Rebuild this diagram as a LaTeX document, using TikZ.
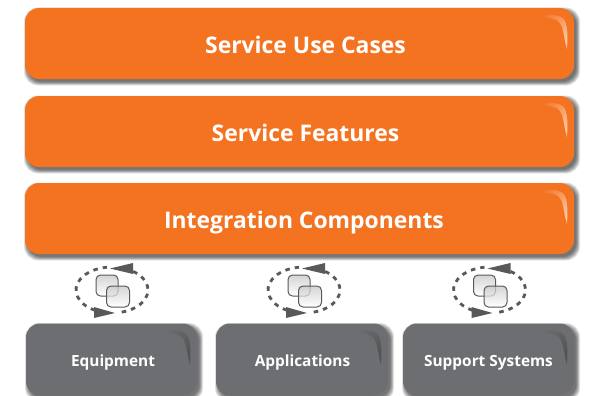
\documentclass[tikz,border=0pt]{standalone}
\usepackage{fontspec}
\setmainfont{Open Sans}
\usetikzlibrary{shadings}
\definecolor{orangebox}{HTML}{F47321}
\definecolor{graybox}{HTML}{6D6E71}
\definecolor{loopgray}{HTML}{58595B}
\tikzset{
  x=1pt,y=-1pt,
  bigtext/.style={font=\fontsize{22.9}{24}\selectfont\bfseries,yshift=-9.5pt},
  smalltext/.style={font=\fontsize{15.4}{17}\selectfont\bfseries,yshift=-6.5pt},
  loopline/.style={draw=loopgray,line width=2.8pt,dash pattern=on 4.6pt off 5pt},
  looptip/.style={fill=loopgray,draw=none},
  tile/.style={draw=loopgray,line width=1pt,rounded corners=4.5pt,top color=black!22,bottom color=white,fill opacity=.75},
}
% x1 y1 x2 y2 fill highlight text-style text name
\newcommand{\panelbox}[9]{%
  \foreach \k in {0,...,7}{
    \fill[black,opacity=.09,rounded corners=14pt]
      ({#1+2.5-3.5+\k*.55},{#2+3-3.5+\k*.55}) rectangle ({#3+2.5+3.5-\k*.55},{#4+3+3.5-\k*.55});
  }
  \path[fill=#5,rounded corners=14pt] (#1,#2) rectangle (#3,#4);
  \shade[shading=axis,left color=#5,right color=#6,shading angle=45]
    ({#3-41},{#2+8}) .. controls ({#3-30},{#2+6}) and ({#3-19},{#2+6}) .. ({#3-13},{#2+9})
    .. controls ({#3-6.5},{#2+12}) and ({#3-6},{#2+24}) .. ({#3-7},{#2+41})
    .. controls ({#3-11},{#2+28}) and ({#3-10},{#2+18}) .. ({#3-16},{#2+13})
    .. controls ({#3-21},{#2+9.5}) and ({#3-31},{#2+10}) .. cycle;
  \node[#7,text=white,anchor=base] (#9) at ({(#1+#3)/2},{(#2+#4)/2}) {#8};
}
\newcommand{\loopicon}[2]{%
  \begin{scope}[shift={(#1,#2)}]
    \draw[loopline] (0,0) ++(-54:36 and 23) arc[start angle=-54,end angle=80,x radius=36,y radius=23];
    \draw[loopline] (0,0) ++(118:36 and 23) arc[start angle=118,end angle=262,x radius=36,y radius=23];
    \fill[looptip] (-2,-21.5) -- (21,-27) -- (21,-16) -- cycle;
    \fill[looptip] (3,23) -- (-18,17) -- (-18,28) -- cycle;
    \path[tile] (-16,-15) rectangle (6,6);
    \path[tile] (-5.5,-4) rectangle (17.5,17);
  \end{scope}
}
\begin{document}
\begin{tikzpicture}
\useasboundingbox (0,0) rectangle (594,396);
\fill[white] (0,0) rectangle (594,396);
\panelbox{25}{8}{574}{79}{orangebox}{orangebox!40!white}{bigtext,xshift=6pt}{Service Use Cases}{usecases}
\panelbox{25}{96}{574}{167}{orangebox}{orangebox!40!white}{bigtext,xshift=6pt}{Service Features}{features}
\panelbox{25}{183}{574}{254}{orangebox}{orangebox!40!white}{bigtext,xshift=4.5pt}{Integration Components}{integration}
\loopicon{112}{290}
\loopicon{304}{290}
\loopicon{489.5}{290}
\panelbox{26}{323.5}{197}{395.5}{graybox}{graybox!75!black}{smalltext,xshift=1.5pt}{Equipment}{equipment}
\panelbox{216}{323.5}{388}{395.5}{graybox}{graybox!75!black}{smalltext,xshift=.5pt}{Applications}{applications}
\panelbox{403}{323.5}{574}{395.5}{graybox}{graybox!75!black}{smalltext}{Support Systems}{support}
\end{tikzpicture}
\end{document}
